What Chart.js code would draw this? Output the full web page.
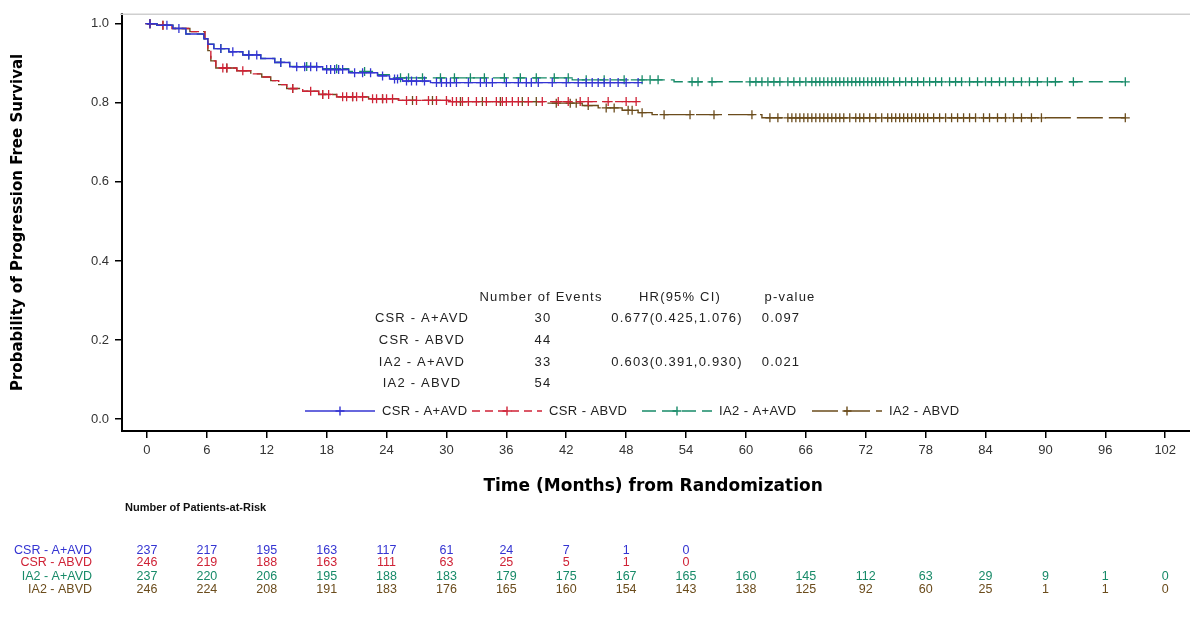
<!DOCTYPE html>
<html>
<head>
<meta charset="utf-8">
<script src="https://cdn.jsdelivr.net/npm/chart.js@4.4.1/dist/chart.umd.min.js"></script>
<style>
  html, body { margin: 0; padding: 0; background: #fff; }
</style>
</head>
<body>
<canvas id="km" width="1190" height="622"></canvas>
<script>
// ---- data ----
const xTicks = [0, 6, 12, 18, 24, 30, 36, 42, 48, 54, 60, 66, 72, 78, 84, 90, 96, 102];
const yTicks = [0, 0.2, 0.4, 0.6, 0.8, 1.0];

const groups = ['CSR - A+AVD', 'CSR - ABVD', 'IA2 - A+AVD', 'IA2 - ABVD'];
const colors = ['#3434d2', '#cf2236', '#178a68', '#6b4c1c'];
const dashes = [[], [8, 5], [14, 6], [26, 6]];

// event times (months) and survival just after each event
const csrAEventT = [1.0, 2.6, 3.9, 5.7, 6.1, 6.7, 8.2, 9.6, 11.4, 12.8, 14.3, 17.6, 20.2, 23.1, 24.3, 25.6, 28.4];
const csrAEventS = [0.996, 0.988, 0.974, 0.962, 0.948, 0.937, 0.929, 0.921, 0.912, 0.902, 0.891, 0.884, 0.876, 0.868, 0.860, 0.855, 0.851];
const csrACensor = [0.3, 2.0, 3.2, 7.4, 8.6, 10.2, 11.0, 13.4, 15.0, 15.8, 16.4, 17.0, 18.0, 18.4, 18.8, 19.2, 19.6, 20.8, 21.6, 22.4, 23.6, 24.8, 25.1, 26.0, 26.5, 27.0, 27.8, 29.0, 29.5, 30.0, 30.4, 31.0, 32.2, 33.4, 34.0, 34.6, 36.0, 37.2, 38.0, 38.5, 39.2, 40.6, 42.0, 43.2, 44.0, 44.6, 45.2, 45.8, 46.4, 47.2, 48.0, 49.2];

const csrBEventT = [1.0, 2.5, 4.3, 5.8, 6.1, 6.4, 6.9, 9.0, 10.4, 11.5, 12.4, 13.2, 14.0, 15.6, 17.2, 19.0, 22.2, 25.2, 30.2];
const csrBEventS = [0.996, 0.988, 0.980, 0.962, 0.932, 0.906, 0.888, 0.881, 0.873, 0.865, 0.856, 0.846, 0.836, 0.829, 0.821, 0.815, 0.810, 0.806, 0.803];
const csrBCensor = [0.3, 1.6, 7.6, 8.0, 9.6, 14.6, 16.4, 17.6, 18.2, 19.6, 20.0, 20.6, 21.0, 21.6, 22.6, 23.0, 23.6, 24.0, 24.6, 26.0, 27.0, 28.2, 29.0, 30.0, 30.6, 31.0, 31.6, 32.2, 33.0, 34.0, 35.0, 35.6, 36.0, 36.6, 37.2, 38.2, 39.6, 41.2, 42.2, 43.4, 44.2, 46.2, 48.0, 49.0];

const ia2AEventT = [1.0, 2.6, 3.9, 5.7, 6.1, 6.7, 8.2, 9.6, 11.4, 12.8, 14.3, 17.6, 20.2, 23.1, 24.6, 42.6, 52.8];
const ia2AEventS = [0.996, 0.988, 0.974, 0.962, 0.948, 0.937, 0.929, 0.921, 0.912, 0.902, 0.892, 0.886, 0.879, 0.871, 0.863, 0.858, 0.853];
const ia2ACensor = [0.3, 7.4, 10.2, 13.4, 16.0, 19.0, 21.8, 25.4, 26.2, 27.6, 29.4, 30.8, 32.4, 33.8, 35.8, 37.4, 39.0, 40.8, 42.2, 44.0, 45.8, 47.8, 49.6, 50.4, 51.2, 54.6, 55.2, 56.6, 60.4, 61.0, 61.6, 62.2, 62.8, 63.4, 64.2, 64.8, 65.4, 66.0, 66.6, 67.0, 67.4, 67.8, 68.2, 68.6, 69.0, 69.4, 69.8, 70.2, 70.6, 71.0, 71.4, 71.8, 72.2, 72.6, 73.0, 73.4, 73.8, 74.2, 74.8, 75.4, 76.0, 76.6, 77.2, 77.8, 78.4, 79.0, 79.6, 80.4, 81.0, 81.6, 82.4, 83.2, 84.0, 84.6, 85.4, 86.0, 86.8, 87.6, 88.4, 89.2, 90.2, 91.0, 92.8, 98.0];

const ia2BEventT = [1.0, 2.5, 4.3, 5.8, 6.1, 6.4, 6.9, 9.0, 10.4, 11.5, 12.4, 13.2, 14.0, 15.6, 17.2, 19.0, 22.2, 25.2, 30.2, 40.0, 43.6, 45.2, 47.6, 49.2, 50.6, 61.6];
const ia2BEventS = [0.996, 0.988, 0.980, 0.962, 0.932, 0.906, 0.888, 0.881, 0.873, 0.865, 0.856, 0.846, 0.836, 0.829, 0.821, 0.815, 0.810, 0.806, 0.803, 0.799, 0.793, 0.787, 0.781, 0.775, 0.770, 0.762];
const ia2BCensor = [0.3, 1.6, 8.0, 14.6, 17.6, 20.6, 23.6, 26.6, 28.6, 31.4, 33.6, 35.4, 37.6, 39.0, 41.0, 42.4, 43.0, 44.2, 46.0, 46.8, 48.2, 48.6, 49.6, 51.8, 54.4, 56.8, 60.6, 62.4, 63.2, 64.2, 64.6, 65.0, 65.4, 65.8, 66.2, 66.6, 67.0, 67.4, 67.8, 68.2, 68.6, 69.0, 69.4, 69.8, 70.4, 71.0, 71.4, 71.8, 72.4, 73.0, 73.6, 74.2, 74.6, 75.0, 75.4, 75.8, 76.2, 76.6, 77.0, 77.4, 77.8, 78.2, 78.8, 79.4, 80.0, 80.6, 81.2, 81.8, 82.4, 83.0, 83.8, 84.4, 85.2, 86.0, 86.8, 87.6, 88.6, 89.6, 98.0];

// summary table inside the plot
const eventCounts = ['30', '44', '33', '54'];
const hrCi = ['0.677(0.425,1.076)', '', '0.603(0.391,0.930)', ''];
const pValues = ['0.097', '', '0.021', ''];

// patients at risk at each x tick
const riskCsrA = [237, 217, 195, 163, 117, 61, 24, 7, 1, 0];
const riskCsrB = [246, 219, 188, 163, 111, 63, 25, 5, 1, 0];
const riskIa2A = [237, 220, 206, 195, 188, 183, 179, 175, 167, 165, 160, 145, 112, 63, 29, 9, 1, 0];
const riskIa2B = [246, 224, 208, 191, 183, 176, 165, 160, 154, 143, 138, 125, 92, 60, 25, 1, 1, 0];

const FONT = '"Liberation Sans", Arial, sans-serif';
const TITLE_FONT = '"DejaVu Sans", Verdana, sans-serif';

// merge events + censor times into one step series
function buildCurve(evT, evS, cens) {
  const pts = [{x: 0, y: 1, c: false}];
  evT.forEach((t, i) => pts.push({x: t, y: evS[i], c: false}));
  cens.forEach(t => pts.push({x: t, y: null, c: true}));
  pts.sort((a, b) => a.x - b.x || (a.c ? 1 : -1));
  let s = 1;
  pts.forEach(p => { if (p.c) p.y = s; else s = p.y; });
  return pts;
}

const curves = [
  buildCurve(csrAEventT, csrAEventS, csrACensor),
  buildCurve(csrBEventT, csrBEventS, csrBCensor),
  buildCurve(ia2AEventT, ia2AEventS, ia2ACensor),
  buildCurve(ia2BEventT, ia2BEventS, ia2BCensor)
];

const datasets = curves.map((pts, i) => ({
  label: groups[i],
  data: pts,
  stepped: true,
  borderColor: colors[i],
  borderWidth: 1.4,
  borderDash: dashes[i],
  fill: false,
  pointStyle: 'cross',
  pointRadius: pts.map(p => p.c ? 4.5 : 0),
  pointHoverRadius: 0,
  pointBorderColor: colors[i],
  pointBorderWidth: 1.3
}));

function cross(ctx, x, y, r) {
  ctx.beginPath();
  ctx.moveTo(x - r, y); ctx.lineTo(x + r, y);
  ctx.moveTo(x, y - r); ctx.lineTo(x, y + r);
  ctx.stroke();
}

const extras = {
  id: 'extras',
  afterDraw(chart) {
    const {ctx, chartArea} = chart;
    const xs = chart.scales.x;
    ctx.save();

    // light frame line at the top, and the x axis line running to the edge
    ctx.strokeStyle = '#cfcfcf';
    ctx.lineWidth = 1.5;
    ctx.beginPath();
    ctx.moveTo(chartArea.left - 2, chartArea.top + 0.5);
    ctx.lineTo(chart.width, chartArea.top + 0.5);
    ctx.stroke();
    ctx.strokeStyle = '#000';
    ctx.lineWidth = 2;
    ctx.beginPath();
    ctx.moveTo(chartArea.right - 1, Math.round(chartArea.bottom));
    ctx.lineTo(chart.width, Math.round(chartArea.bottom));
    ctx.stroke();

    // summary table
    ctx.fillStyle = '#222';
    ctx.font = '13px ' + FONT;
    ctx.letterSpacing = '1.2px';
    ctx.textAlign = 'center';
    ctx.textBaseline = 'middle';
    ctx.fillText('Number of Events', 541, 297);
    ctx.fillText('HR(95% CI)', 680, 297);
    ctx.fillText('p-value', 790, 297);
    const rowY = [318, 340, 362, 383];
    groups.forEach((g, i) => {
      ctx.fillText(g, 422, rowY[i]);
      ctx.fillText(eventCounts[i], 543, rowY[i]);
      if (hrCi[i]) ctx.fillText(hrCi[i], 677, rowY[i]);
      if (pValues[i]) ctx.fillText(pValues[i], 781, rowY[i]);
    });

    // legend
    ctx.letterSpacing = '0.4px';
    ctx.textAlign = 'left';
    const legendX = [305, 472, 642, 812];
    const ly = 411;
    groups.forEach((g, i) => {
      const lx = legendX[i];
      ctx.strokeStyle = colors[i];
      ctx.lineWidth = 1.4;
      ctx.setLineDash(dashes[i]);
      ctx.beginPath();
      ctx.moveTo(lx, ly); ctx.lineTo(lx + 70, ly);
      ctx.stroke();
      ctx.setLineDash([]);
      cross(ctx, lx + 35, ly, 4.5);
      ctx.fillStyle = '#222';
      ctx.fillText(g, lx + 77, ly);
    });

    // patients at risk
    ctx.letterSpacing = '0px';
    ctx.fillStyle = '#111';
    ctx.font = 'bold 11px ' + FONT;
    ctx.textAlign = 'left';
    ctx.fillText('Number of Patients-at-Risk', 125, 508);
    const riskRows = [riskCsrA, riskCsrB, riskIa2A, riskIa2B];
    const riskY = [551, 563, 577, 590];
    ctx.font = '12.5px ' + FONT;
    riskRows.forEach((row, i) => {
      ctx.fillStyle = colors[i];
      ctx.textAlign = 'right';
      ctx.fillText(groups[i], 92, riskY[i]);
      ctx.textAlign = 'center';
      row.forEach((n, j) => ctx.fillText(String(n), xs.getPixelForValue(xTicks[j]), riskY[i]));
    });
    ctx.restore();
  }
};

new Chart(document.getElementById('km'), {
  type: 'line',
  data: { datasets },
  options: {
    responsive: false,
    animation: false,
    layout: { padding: { top: 12, right: 0, bottom: 125, left: 0 } },
    plugins: { legend: { display: false }, tooltip: { enabled: false } },
    scales: {
      x: {
        type: 'linear',
        min: -2.5,
        max: 103.9,
        afterBuildTicks: s => { s.ticks = xTicks.map(v => ({ value: v })); },
        afterFit: s => { s.height = 66; },
        ticks: { color: '#333', font: { size: 13, family: FONT }, padding: 5, maxRotation: 0, autoSkip: false },
        grid: { drawOnChartArea: false, drawTicks: true, tickLength: 7, color: '#000', lineWidth: 1.5 },
        border: { color: '#000', width: 2 },
        title: { display: true, text: 'Time (Months) from Randomization', color: '#000',
                 font: { size: 17, weight: 'bold', family: TITLE_FONT }, padding: { top: 4, bottom: 0 } }
      },
      y: {
        type: 'linear',
        min: -0.03,
        max: 1.025,
        afterBuildTicks: s => { s.ticks = yTicks.map(v => ({ value: v })); },
        afterFit: s => { s.width = 122; },
        ticks: { color: '#333', font: { size: 13, family: FONT }, padding: 6, callback: v => v.toFixed(1) },
        grid: { drawOnChartArea: false, drawTicks: true, tickLength: 7, color: '#000', lineWidth: 1.5 },
        border: { color: '#000', width: 2 },
        title: { display: true, text: 'Probability of Progression Free Survival', color: '#000',
                 font: { size: 15, weight: 'bold', family: TITLE_FONT }, padding: { top: 9, bottom: 0 } }
      }
    }
  },
  plugins: [extras]
});
</script>
</body>
</html>
